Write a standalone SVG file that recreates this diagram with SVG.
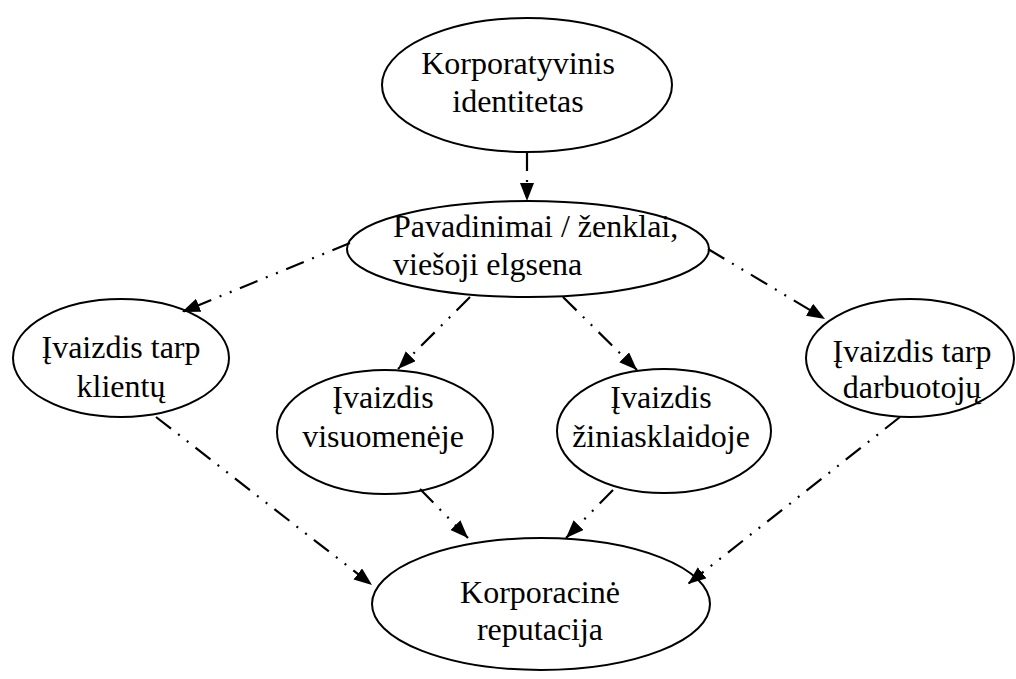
<svg xmlns="http://www.w3.org/2000/svg" width="1016" height="679" viewBox="0 0 1016 679">
<style>
.n{fill:#fff;stroke:#000;stroke-width:2}
.t{font-family:"Liberation Serif","Times New Roman",serif;font-size:32px;fill:#000}
.c{text-anchor:middle}
.e{stroke:#000;stroke-width:2.2;fill:none;stroke-dasharray:19 9 2 9 2 9;marker-end:url(#a)}
</style>
<defs>
<marker id="a" markerUnits="userSpaceOnUse" markerWidth="20" markerHeight="16" refX="18" refY="7" orient="auto">
<path d="M0,0 L18,7 L0,14 z" fill="#000"/>
</marker>
</defs>
<rect width="1016" height="679" fill="#fff"/>
<g id="n1"><ellipse class="n" cx="527" cy="85" rx="145" ry="67"/>
<text class="t c" x="518" y="74">Korporatyvinis</text><text class="t c" x="518" y="112">identitetas</text></g>
<g id="n2"><ellipse class="n" cx="528" cy="249" rx="181" ry="48"/>
<text class="t" x="393" y="237">Pavadinimai / ženklai,</text><text class="t" x="393" y="275">viešoji elgsena</text></g>
<g id="n3"><ellipse class="n" cx="121" cy="358" rx="108" ry="59"/>
<text class="t c" x="121" y="358">Įvaizdis tarp</text><text class="t c" x="121" y="397">klientų</text></g>
<g id="n4"><ellipse class="n" cx="385" cy="432" rx="108" ry="62"/>
<text class="t c" x="383" y="408">Įvaizdis</text><text class="t c" x="383" y="447">visuomenėje</text></g>
<g id="n5"><ellipse class="n" cx="664" cy="431" rx="107" ry="62"/>
<text class="t c" x="661" y="408">Įvaizdis</text><text class="t c" x="661" y="447">žiniasklaidoje</text></g>
<g id="n6"><ellipse class="n" cx="910" cy="358" rx="104" ry="59"/>
<text class="t c" x="912" y="362">Įvaizdis tarp</text><text class="t c" x="912" y="398">darbuotojų</text></g>
<g id="n7"><ellipse class="n" cx="541" cy="604" rx="169" ry="66"/>
<text class="t c" x="540" y="603">Korporacinė</text><text class="t c" x="540" y="640">reputacija</text></g>
<g id="edges">
<line class="e" x1="527" y1="152" x2="527" y2="201"/>
<line class="e" x1="350" y1="243" x2="182" y2="312"/>
<line class="e" x1="470" y1="297" x2="398" y2="369"/>
<line class="e" x1="563" y1="297" x2="637" y2="370"/>
<line class="e" x1="708" y1="249" x2="825" y2="319"/>
<line class="e" x1="156" y1="417" x2="372" y2="585"/>
<line class="e" x1="420" y1="489" x2="468" y2="538"/>
<line class="e" x1="613" y1="490" x2="566" y2="538"/>
<line class="e" x1="900" y1="417" x2="688" y2="584"/>
</g>
</svg>
